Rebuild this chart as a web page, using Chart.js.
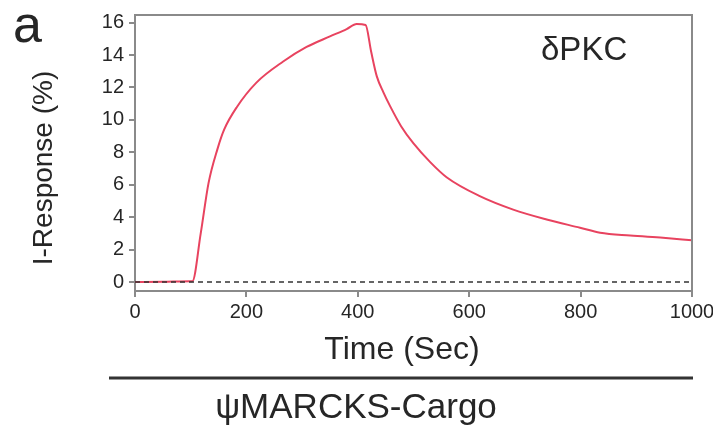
<!DOCTYPE html>
<html><head><meta charset="utf-8">
<script src="https://cdn.jsdelivr.net/npm/chart.js@4/dist/chart.umd.min.js"></script>
<style>html,body{margin:0;padding:0;background:#fff;}#wrap{width:713px;height:428px;}</style>
</head><body><div id="wrap"><canvas id="c" width="713" height="428"></canvas></div>
<script>
// ---- data ----
const timeSec  = [0, 50, 100, 103, 118, 132, 148, 160, 183, 218, 266, 308, 350, 380, 398, 414, 424, 434, 446, 458, 478, 500, 530, 560, 619, 679, 739, 799, 835, 889, 948, 1000];
const response = [0, 0.02, 0.05, 0.05, 3.0, 6.1, 8.2, 9.4, 10.8, 12.3, 13.6, 14.5, 15.15, 15.6, 15.92, 15.85, 14.2, 12.7, 11.7, 10.85, 9.6, 8.55, 7.4, 6.45, 5.3, 4.47, 3.86, 3.35, 3.04, 2.87, 2.73, 2.58];
const baselineX = [0, 1000];
const baselineY = [0, 0];
const xTicks = [0, 200, 400, 600, 800, 1000];
const yTicks = [0, 2, 4, 6, 8, 10, 12, 14, 16];
const panelLabel = 'a';
const seriesLabel = 'δPKC';
const xTitle = 'Time (Sec)';
const yTitle = 'I-Response (%)';
const conditionLabel = 'ψMARCKS-Cargo';

const FONT = '"Liberation Sans", Arial, Helvetica, sans-serif';
const AXIS = '#8a8a8a';
const TEXT = '#262626';

const decor = {
  id: 'decor',
  afterDraw(chart) {
    const ctx = chart.ctx, a = chart.chartArea;
    ctx.save();
    ctx.strokeStyle = AXIS; ctx.lineWidth = 2;
    ctx.beginPath();
    ctx.moveTo(a.left - 1, a.top); ctx.lineTo(a.right, a.top); ctx.lineTo(a.right, a.bottom);
    ctx.stroke();
    ctx.fillStyle = TEXT;
    ctx.textBaseline = 'alphabetic';
    ctx.font = '52px ' + FONT; ctx.textAlign = 'left';
    ctx.fillText(panelLabel, 13, 42);
    ctx.font = '33px ' + FONT;
    ctx.fillText(seriesLabel, 541, 60);
    ctx.font = '32px ' + FONT; ctx.textAlign = 'center';
    ctx.fillText(xTitle, 402, 359);
    ctx.strokeStyle = '#333'; ctx.lineWidth = 3;
    ctx.beginPath(); ctx.moveTo(109, 378); ctx.lineTo(693, 378); ctx.stroke();
    ctx.font = '35px ' + FONT;
    ctx.fillText(conditionLabel, 356, 418);
    ctx.translate(44, 168); ctx.rotate(-Math.PI / 2);
    ctx.font = '28px ' + FONT; ctx.textBaseline = 'middle';
    ctx.fillText(yTitle, 0, 0);
    ctx.restore();
  }
};

new Chart(document.getElementById('c'), {
  type: 'line',
  data: {
    datasets: [
      { data: timeSec.map((t, i) => ({ x: t, y: response[i] })), borderColor: '#e8435f', borderWidth: 2,
        pointRadius: 0, cubicInterpolationMode: 'monotone', fill: false, order: 2 },
      { data: baselineX.map((t, i) => ({ x: t, y: baselineY[i] })), borderColor: '#333', borderWidth: 1.5,
        borderDash: [5, 4], pointRadius: 0, fill: false, order: 1 }
    ]
  },
  options: {
    responsive: false, animation: false, devicePixelRatio: 1,
    layout: { padding: { left: 0, top: 15, right: 21, bottom: 97 } },
    plugins: { legend: { display: false }, tooltip: { enabled: false }, title: { display: false } },
    scales: {
      x: {
        type: 'linear', min: 0, max: 1000,
        afterBuildTicks: s => { s.ticks = xTicks.map(v => ({ value: v })); },
        afterFit: s => { s.height = 40; s.paddingLeft = 0; s.paddingRight = 0; },
        grid: { display: true, drawOnChartArea: false, drawTicks: true, tickLength: 6, color: AXIS, lineWidth: 2 },
        border: { display: true, color: AXIS, width: 2 },
        ticks: { color: TEXT, font: { family: FONT, size: 20 }, padding: 3, maxRotation: 0, autoSkip: false,
                 callback: v => String(v) }
      },
      y: {
        type: 'linear', min: -0.55, max: 16.47,
        afterBuildTicks: s => { s.ticks = yTicks.map(v => ({ value: v })); },
        afterFit: s => { s.width = 135; s.paddingTop = 0; s.paddingBottom = 0; },
        grid: { display: true, drawOnChartArea: false, drawTicks: true, tickLength: 6, color: AXIS, lineWidth: 2 },
        border: { display: true, color: AXIS, width: 2 },
        ticks: { color: TEXT, font: { family: FONT, size: 20 }, padding: 5, autoSkip: false,
                 callback: v => String(v) }
      }
    }
  },
  plugins: [decor]
});
</script></body></html>
